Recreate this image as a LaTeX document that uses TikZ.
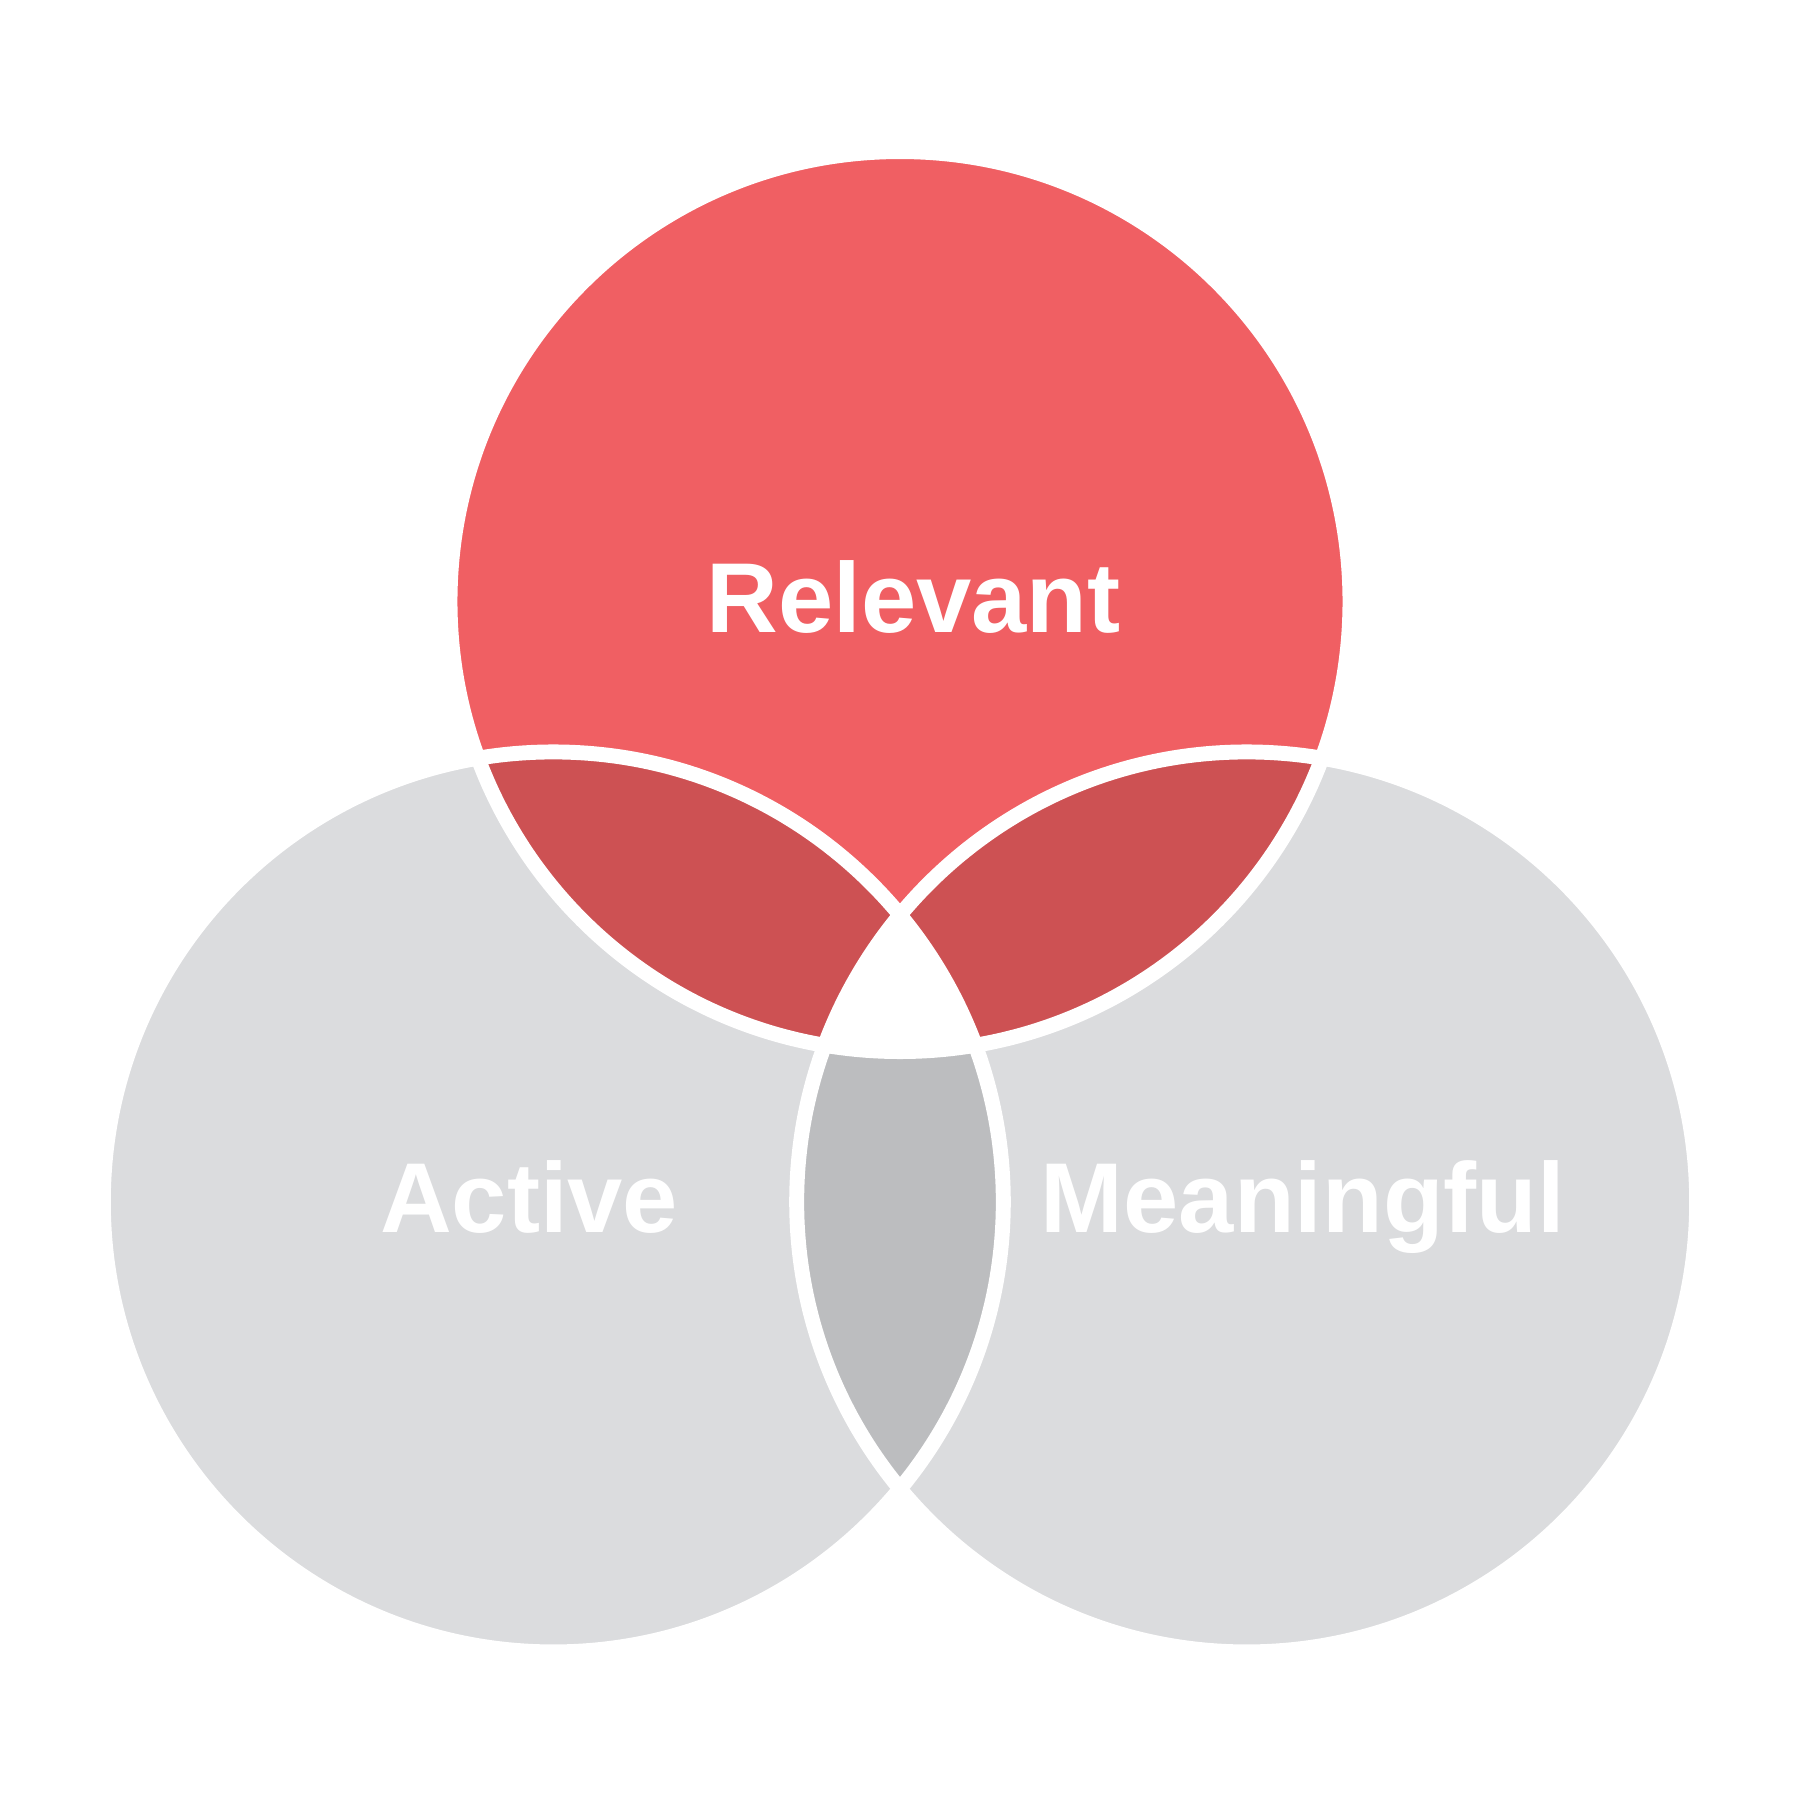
\documentclass[tikz,border=0pt]{standalone}
\usepackage{fontspec}
\setmainfont{Liberation Sans}
\definecolor{topred}{RGB}{240,95,99}
\definecolor{darkred}{RGB}{205,81,83}
\definecolor{lightgray}{RGB}{219,220,222}
\definecolor{midgray}{RGB}{188,189,191}
\tikzset{
  lbl/.style={text=white, font=\bfseries\fontsize{24.6}{29}\selectfont, anchor=base, inner sep=0pt},
  ring/.style={draw=white, line width=0.13cm}
}
\begin{document}
\begin{tikzpicture}[x=0.01cm,y=-0.01cm]
\useasboundingbox[fill=white] (0,0) rectangle (1568,1568);
\def\R{392}
\coordinate (T) at (784,524);
\coordinate (L) at (482,1047);
\coordinate (M) at (1086,1047);
% base fills
\fill[topred] (T) circle[radius=\R];
\fill[lightgray] (L) circle[radius=\R];
\fill[lightgray] (M) circle[radius=\R];
% pairwise intersections
\begin{scope}
  \clip (T) circle[radius=\R];
  \fill[darkred] (L) circle[radius=\R];
  \fill[darkred] (M) circle[radius=\R];
\end{scope}
\begin{scope}
  \clip (L) circle[radius=\R];
  \fill[midgray] (M) circle[radius=\R];
\end{scope}
% triple intersection
\begin{scope}
  \clip (T) circle[radius=\R];
  \clip (L) circle[radius=\R];
  \fill[white] (M) circle[radius=\R];
\end{scope}
% white rings
\draw[ring] (T) circle[radius=\R];
\draw[ring] (L) circle[radius=\R];
\draw[ring] (M) circle[radius=\R];
% labels
\node[lbl] (rel) at (796,551) {Relevant};
\node[lbl] (act) at (461,1074) {Active};
\node[lbl] (mea) at (1135,1074) {Meaningful};
\end{tikzpicture}
\end{document}
